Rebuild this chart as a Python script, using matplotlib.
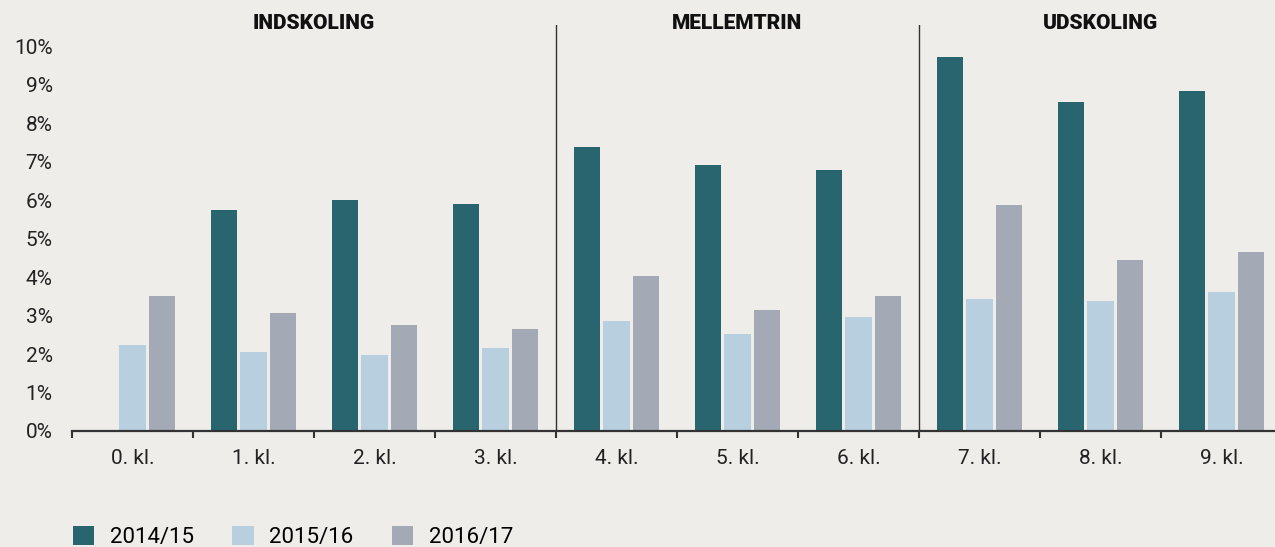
import matplotlib.pyplot as plt
import numpy as np
from matplotlib.patches import Patch

plt.rcParams['font.family'] = ['Roboto', 'DejaVu Sans']

BG = '#eeede9'

grades = ['0. kl.', '1. kl.', '2. kl.', '3. kl.', '4. kl.',
          '5. kl.', '6. kl.', '7. kl.', '8. kl.', '9. kl.']
years = ['2014/15', '2015/16', '2016/17']
share_1415 = [0.0, 5.74, 6.0, 5.9, 7.38, 6.91, 6.78, 9.71, 8.55, 8.83]
share_1516 = [2.23, 2.05, 1.97, 2.16, 2.86, 2.52, 2.96, 3.43, 3.38, 3.61]
share_1617 = [3.5, 3.06, 2.75, 2.65, 4.03, 3.14, 3.5, 5.87, 4.44, 4.65]
stages = ['INDSKOLING', 'MELLEMTRIN', 'UDSKOLING']
stage_groups = [(0, 3), (4, 6), (7, 9)]

colors = ['#28656e', '#b8cfdf', '#a4aab5']

W, H = 1275, 547
fig = plt.figure(figsize=(W / 100, H / 100), dpi=100, facecolor=BG)
ax = fig.add_axes([72 / W, 116 / H, 1210 / W, 406 / H], facecolor=BG)

x = np.arange(len(grades))
bar_w = 0.215
step = 0.24
for k, vals in enumerate([share_1415, share_1516, share_1617]):
    ax.bar(x + (k - 1) * step, vals, width=bar_w, color=colors[k],
           linewidth=0, label=years[k])

ax.set_xlim(-0.5, len(grades) - 0.5)
ax.set_ylim(0, 10.55)

# y axis: percent labels, no ticks
ax.set_yticks(range(0, 11))
ax.set_yticklabels([f'{v}%' for v in range(0, 11)], fontsize=15, color='#222222')
ax.tick_params(axis='y', length=0, pad=14)

# x axis: labels at centres, small ticks at group borders
ax.set_xticks(x)
ax.set_xticklabels(grades, fontsize=15, color='#222222')
ax.tick_params(axis='x', which='major', length=0, pad=13)
ax.set_xticks(np.arange(-0.5, len(grades) + 0.5, 1.0), minor=True)
ax.tick_params(axis='x', which='minor', length=5, width=1.5, color='#333333')

for side in ['top', 'right', 'left']:
    ax.spines[side].set_visible(False)
ax.spines['bottom'].set_color('#333333')
ax.spines['bottom'].set_linewidth(1.6)

# separators between school stages
for lo, hi in stage_groups[1:]:
    ax.axvline(lo - 0.5, ymin=0, ymax=1, color='#333333', linewidth=1.0)

for name, (lo, hi) in zip(stages, stage_groups):
    ax.text((lo + hi) / 2, 10.58, name, ha='center', va='center',
            fontsize=15, fontweight='heavy', color='#111111')

handles = [Patch(facecolor=c, edgecolor='none') for c in colors]
fig.legend(handles, years, loc='upper left', bbox_to_anchor=(72 / W - 0.0045, 1 - 519 / H),
           ncol=3, frameon=False, fontsize=16, handlelength=0.95, handleheight=0.95,
           handletextpad=0.7, columnspacing=1.75, borderaxespad=0, borderpad=0.3)

fig.savefig('out.png', dpi=100, facecolor=BG)
